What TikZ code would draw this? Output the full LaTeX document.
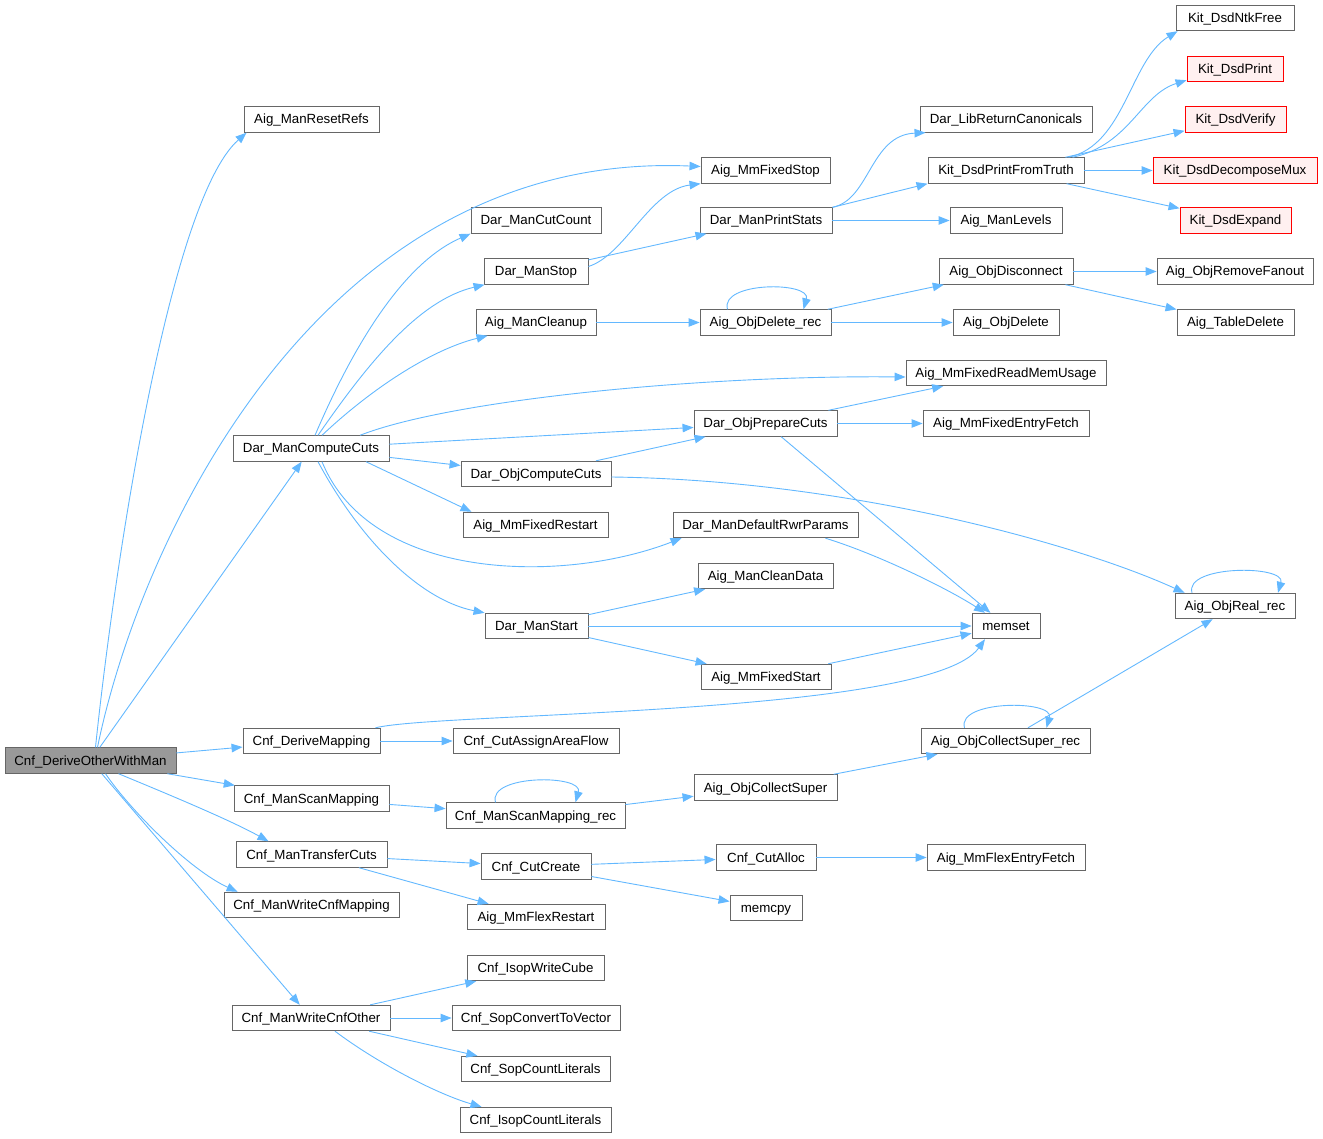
\documentclass[tikz,border=0pt]{standalone}
\usepackage{fontspec}
\setmainfont{Liberation Sans}
\usetikzlibrary{arrows.meta}
\definecolor{edgecol}{HTML}{63B8FF}
\definecolor{boxline}{HTML}{666666}
\definecolor{rootfill}{HTML}{999999}
\definecolor{redfill}{HTML}{FFF0F0}
\tikzset{
  fn/.style={draw=boxline, line width=0.9pt, fill=white, inner sep=0pt,
    minimum height=25.5pt, text height=9.5pt, text depth=0.5pt,
    font=\fontsize{13.3}{16}\selectfont},
  rootfn/.style={fn, fill=rootfill},
  redfn/.style={fn, draw=red, fill=redfill},
  e/.style={draw=edgecol, line width=0.9pt, -{Triangle[length=11pt,width=8.5pt]}},
}
\newcommand{\fnode}[5][fn]{\node[#1, minimum width=#5pt] (#2) at (#3) {#4};}
\begin{document}
\begin{tikzpicture}[x=1pt,y=-1pt]
\useasboundingbox (0,0) rectangle (1323,1139);
% nodes
\fnode[rootfn]{root}{90.5,760.5}{Cnf\_DeriveOtherWithMan}{171}
\fnode{ResetRefs}{311.5,119.5}{Aig\_ManResetRefs}{135}
\fnode{MmFixedStop}{765.5,170.5}{Aig\_MmFixedStop}{129}
\fnode{CutCount}{536,220.5}{Dar\_ManCutCount}{130}
\fnode{ManStop}{536,271.5}{Dar\_ManStop}{104}
\fnode{ManCleanup}{536,322.5}{Aig\_ManCleanup}{120}
\fnode{ComputeCuts}{311,448.5}{Dar\_ManComputeCuts}{156}
\fnode{LibRetCanon}{1006,119.5}{Dar\_LibReturnCanonicals}{172}
\fnode{PrintFromTruth}{1006,170.5}{Kit\_DsdPrintFromTruth}{156}
\fnode{PrintStats}{766,220.5}{Dar\_ManPrintStats}{132}
\fnode{ManLevels}{1006,220.5}{Aig\_ManLevels}{112}
\fnode{NtkFree}{1235,18}{Kit\_DsdNtkFree}{118}
\fnode[redfn]{DsdPrint}{1235,69}{Kit\_DsdPrint}{96}
\fnode[redfn]{DsdVerify}{1235.5,119.5}{Kit\_DsdVerify}{101}
\fnode[redfn]{DecomposeMux}{1235,170.5}{Kit\_DsdDecomposeMux}{164}
\fnode[redfn]{DsdExpand}{1235.5,220.5}{Kit\_DsdExpand}{111}
\fnode{ObjDisconnect}{1006,271.5}{Aig\_ObjDisconnect}{134}
\fnode{RemoveFanout}{1235,271.5}{Aig\_ObjRemoveFanout}{156}
\fnode{ObjDeleteRec}{765.5,322.5}{Aig\_ObjDelete\_rec}{131}
\fnode{ObjDelete}{1006,322.5}{Aig\_ObjDelete}{106}
\fnode{TableDelete}{1235.5,322.5}{Aig\_TableDelete}{117}
\fnode{ReadMemUsage}{1006,373}{Aig\_MmFixedReadMemUsage}{200}
\fnode{PrepareCuts}{765.5,423.5}{Dar\_ObjPrepareCuts}{143}
\fnode{EntryFetch}{1006,423.5}{Aig\_MmFixedEntryFetch}{166}
\fnode{ObjComputeCuts}{536,474}{Dar\_ObjComputeCuts}{150}
\fnode{FixedRestart}{535.5,525}{Aig\_MmFixedRestart}{145}
\fnode{DefaultRwr}{765.5,525}{Dar\_ManDefaultRwrParams}{185}
\fnode{CleanData}{765.5,576}{Aig\_ManCleanData}{135}
\fnode{ManStart}{536.5,626}{Dar\_ManStart}{103}
\fnode{memset}{1006,626}{memset}{68}
\fnode{ObjRealRec}{1235,606}{Aig\_ObjReal\_rec}{120}
\fnode{FixedStart}{766,677}{Aig\_MmFixedStart}{130}
\fnode{DeriveMapping}{311.5,741}{Cnf\_DeriveMapping}{137}
\fnode{CutAssign}{536,741}{Cnf\_CutAssignAreaFlow}{166}
\fnode{CollectSuperRec}{1005.5,741}{Aig\_ObjCollectSuper\_rec}{169}
\fnode{ScanMapping}{311.5,798.5}{Cnf\_ManScanMapping}{155}
\fnode{ScanMappingRec}{535.5,815.5}{Cnf\_ManScanMapping\_rec}{179}
\fnode{CollectSuper}{765.5,787.5}{Aig\_ObjCollectSuper}{143}
\fnode{TransferCuts}{311.5,854.5}{Cnf\_ManTransferCuts}{151}
\fnode{CutCreate}{536,866.5}{Cnf\_CutCreate}{110}
\fnode{CutAlloc}{766,857.5}{Cnf\_CutAlloc}{100}
\fnode{FlexEntryFetch}{1006,857.5}{Aig\_MmFlexEntryFetch}{158}
\fnode{WriteCnfMapping}{311.5,905}{Cnf\_ManWriteCnfMapping}{175}
\fnode{FlexRestart}{536,917}{Aig\_MmFlexRestart}{138}
\fnode{memcpy}{766,908}{memcpy}{72}
\fnode{IsopWriteCube}{535.5,968}{Cnf\_IsopWriteCube}{137}
\fnode{WriteCnfOther}{311,1018}{Cnf\_ManWriteCnfOther}{158}
\fnode{SopConvert}{536,1018}{Cnf\_SopConvertToVector}{168}
\fnode{SopCountLit}{535.5,1069}{Cnf\_SopCountLiterals}{149}
\fnode{IsopCountLit}{535.5,1120}{Cnf\_IsopCountLiterals}{151}

% root edges
\draw[e] ([xshift=5pt]root.north) .. controls (115,560) and (170,200) .. ([xshift=3pt]ResetRefs.south west);
\draw[e] ([xshift=7pt]root.north) .. controls (140,540) and (320,150) .. ([yshift=4pt]MmFixedStop.west);
\draw[e] (root) -- (ComputeCuts);
\draw[e] (root) -- (DeriveMapping);
\draw[e] (root) -- (ScanMapping);
\draw[e] ([xshift=28pt]root.south) .. controls (170,795) and (230,820) .. ([xshift=-43pt]TransferCuts.north);
\draw[e] ([xshift=15pt]root.south) .. controls (130,810) and (190,870) .. ([xshift=14pt]WriteCnfMapping.north west);
\draw[e] (root) -- (WriteCnfOther);

% ComputeCuts edges
\draw[e] ([xshift=4pt]ComputeCuts.north) .. controls (360,330) and (410,260) .. (CutCount.south west);
\draw[e] ([xshift=7pt]ComputeCuts.north) .. controls (370,360) and (420,300) .. ([xshift=1pt]ManStop.south west);
\draw[e] ([xshift=11pt]ComputeCuts.north) .. controls (370,390) and (430,350) .. ([xshift=12pt]ManCleanup.south west);
\draw[e] ([xshift=49pt]ComputeCuts.north) .. controls (450,400) and (700,375) .. ([yshift=-4pt]ReadMemUsage.west);
\draw[e] (ComputeCuts) -- (PrepareCuts);
\draw[e] (ComputeCuts) -- (ObjComputeCuts);
\draw[e] ([xshift=55pt]ComputeCuts.south) -- ([xshift=-64pt]FixedRestart.north);
\draw[e] ([xshift=11pt]ComputeCuts.south) .. controls (370,580) and (560,585) .. ([xshift=9pt]DefaultRwr.south west);
\draw[e] ([xshift=7pt]ComputeCuts.south) .. controls (360,540) and (420,600) .. (ManStart.north west);

% ManStop
\draw[e] ([yshift=5pt]ManStop.east) .. controls (625,255) and (650,190) .. (MmFixedStop.south west);
\draw[e] (ManStop) -- (PrintStats);

% PrintStats
\draw[e] (PrintStats.north east) .. controls (870,200) and (870,135) .. ([xshift=6pt]LibRetCanon.south west);
\draw[e] (PrintStats.north east) -- (PrintFromTruth.south west);
\draw[e] (PrintStats) -- (ManLevels);

% PrintFromTruth
\draw[e] ([xshift=-16pt]PrintFromTruth.north east) .. controls (1125,145) and (1130,60) .. ([xshift=2pt]NtkFree.south west);
\draw[e] ([xshift=-12pt]PrintFromTruth.north east) .. controls (1130,145) and (1140,95) .. ([yshift=2pt]DsdPrint.south west);
\draw[e] (PrintFromTruth) -- (DsdVerify);
\draw[e] (PrintFromTruth) -- (DecomposeMux);
\draw[e] (PrintFromTruth) -- (DsdExpand);

% cleanup chain
\draw[e] (ManCleanup) -- (ObjDeleteRec);
\draw[e] ([xshift=-38pt]ObjDeleteRec.north) .. controls +(-8,-28) and +(8,-28) .. ([xshift=38pt]ObjDeleteRec.north);
\draw[e] (ObjDeleteRec) -- (ObjDisconnect);
\draw[e] (ObjDeleteRec) -- (ObjDelete);
\draw[e] (ObjDisconnect) -- (RemoveFanout);
\draw[e] (ObjDisconnect) -- (TableDelete);

% PrepareCuts
\draw[e] (PrepareCuts) -- (ReadMemUsage);
\draw[e] (PrepareCuts) -- (EntryFetch);
\draw[e] (PrepareCuts) -- (memset);

% ObjComputeCuts
\draw[e] (ObjComputeCuts) -- (PrepareCuts);
\draw[e] ([yshift=-3pt]ObjComputeCuts.east) .. controls (850,480) and (1080,545) .. ([xshift=10pt]ObjRealRec.north west);

% DefaultRwr, ManStart
\draw[e] ([xshift=-33pt]DefaultRwr.south east) .. controls (880,555) and (950,590) .. ([xshift=-21pt]memset.north);
\draw[e] (ManStart) -- (CleanData);
\draw[e] (ManStart) -- (memset);
\draw[e] (ManStart) -- (FixedStart);
\draw[e] (FixedStart) -- (memset);
\draw[e] ([xshift=-43pt]ObjRealRec.north) .. controls +(-8,-28) and +(8,-28) .. ([xshift=43pt]ObjRealRec.north);

% DeriveMapping
\draw[e] ([xshift=-5pt]DeriveMapping.north east) .. controls (440,712) and (930,716) .. ([xshift=-21pt]memset.south);
\draw[e] (DeriveMapping) -- (CutAssign);

% CollectSuper
\draw[e] ([xshift=-41pt]CollectSuperRec.north) .. controls +(-8,-28) and +(8,-28) .. ([xshift=41pt]CollectSuperRec.north);
\draw[e] (CollectSuperRec) -- (ObjRealRec);
\draw[e] (ScanMapping) -- (ScanMappingRec);
\draw[e] ([xshift=-40pt]ScanMappingRec.north) .. controls +(-8,-28) and +(8,-28) .. ([xshift=40pt]ScanMappingRec.north);
\draw[e] (ScanMappingRec) -- (CollectSuper);
\draw[e] (CollectSuper) -- (CollectSuperRec);

% TransferCuts
\draw[e] (TransferCuts) -- (CutCreate);
\draw[e] (TransferCuts) -- (FlexRestart);
\draw[e] (CutCreate) -- (CutAlloc);
\draw[e] (CutCreate) -- (memcpy);
\draw[e] (CutAlloc) -- (FlexEntryFetch);

% WriteCnfOther
\draw[e] (WriteCnfOther) -- (IsopWriteCube);
\draw[e] (WriteCnfOther) -- (SopConvert);
\draw[e] (WriteCnfOther) -- (SopCountLit);
\draw[e] ([xshift=24pt]WriteCnfOther.south) .. controls (380,1065) and (440,1095) .. ([xshift=-54pt]IsopCountLit.north);
\end{tikzpicture}
\end{document}
